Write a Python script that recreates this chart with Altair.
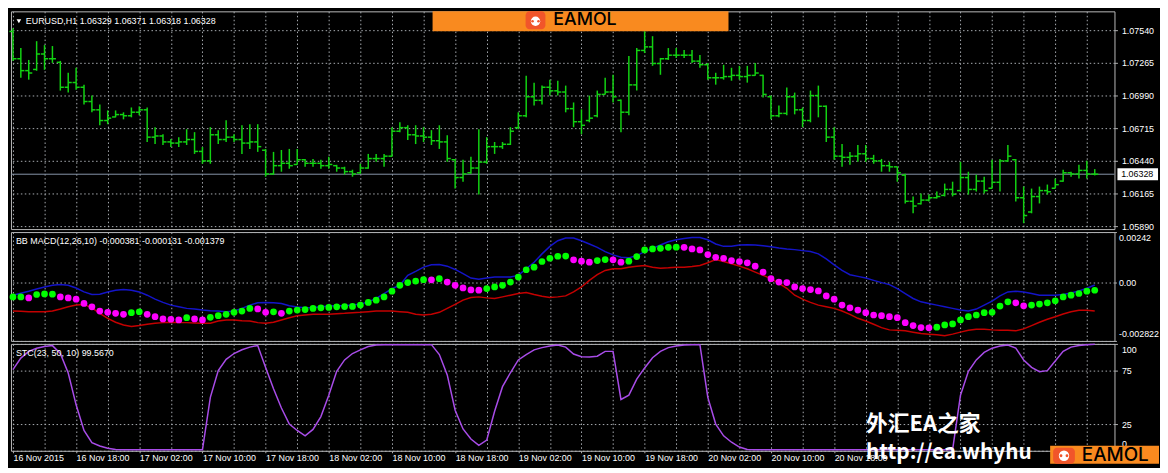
import json
import altair as alt
import pandas as pd

# ---------------- data ----------------
time_labels = ["16 Nov 2015", "16 Nov 18:00", "17 Nov 02:00", "17 Nov 10:00", "17 Nov 18:00",
               "18 Nov 02:00", "18 Nov 10:00", "18 Nov 18:00", "19 Nov 02:00", "19 Nov 10:00",
               "19 Nov 18:00", "20 Nov 02:00", "20 Nov 10:00", "20 Nov 18:00"]
price_ticks = [1.05890, 1.06165, 1.06440, 1.06715, 1.06990, 1.07265, 1.07540]
macd_ticks = [-0.002822, 0.0, 0.00242]
stc_ticks = [0, 25, 75, 100]

title_price = "EURUSD,H1  1.06329 1.06371 1.06318 1.06328"
title_macd = "BB MACD(12,26,10) -0.000381 -0.000131 -0.001379"
title_stc = "STC(23, 50, 10) 99.5670"
wm_cn = "外汇EA之家"
wm_url = "http://ea.whyhu"
logo_text = "EAMOL"

high = [1.07557, 1.07390, 1.07290, 1.07448, 1.07415, 1.07407, 1.07282, 1.07182, 1.07224, 1.07082,
        1.06990, 1.06915, 1.06865, 1.06865, 1.06849, 1.06890, 1.06899, 1.06890, 1.06724, 1.06665,
        1.06624, 1.06640, 1.06707, 1.06682, 1.06557, 1.06724, 1.06699, 1.06782, 1.06665, 1.06740,
        1.06749, 1.06749, 1.06541, 1.06516, 1.06532, 1.06541, 1.06541, 1.06457, 1.06457, 1.06449,
        1.06474, 1.06407, 1.06391, 1.06366, 1.06416, 1.06499, 1.06499, 1.06499, 1.06724, 1.06765,
        1.06740, 1.06740, 1.06724, 1.06699, 1.06740, 1.06657, 1.06457, 1.06449, 1.06474, 1.06707,
        1.06640, 1.06599, 1.06599, 1.06724, 1.06849, 1.07157, 1.07099, 1.07074, 1.07124, 1.07115,
        1.07074, 1.06932, 1.06874, 1.06990, 1.07032, 1.07140, 1.07165, 1.06957, 1.07323, 1.07390,
        1.07532, 1.07490, 1.07307, 1.07390, 1.07390, 1.07374, 1.07374, 1.07332, 1.07265, 1.07182,
        1.07249, 1.07224, 1.07240, 1.07240, 1.07265, 1.07165, 1.06990, 1.06907, 1.07057, 1.07015,
        1.06890, 1.07032, 1.07074, 1.06907, 1.06724, 1.06582, 1.06516, 1.06574, 1.06574, 1.06491,
        1.06457, 1.06432, 1.06391, 1.06332, 1.06141, 1.06166, 1.06157, 1.06182, 1.06249, 1.06265,
        1.06432, 1.06349, 1.06324, 1.06307, 1.06449, 1.06457, 1.06574, 1.06457, 1.06224, 1.06207,
        1.06224, 1.06241, 1.06291, 1.06366, 1.06349, 1.06407, 1.06441, 1.06371]
low = [1.07282, 1.07140, 1.07124, 1.07199, 1.07207, 1.07265, 1.07032, 1.07015, 1.07040, 1.06915,
       1.06849, 1.06740, 1.06749, 1.06807, 1.06790, 1.06807, 1.06824, 1.06599, 1.06582, 1.06574,
       1.06557, 1.06557, 1.06574, 1.06499, 1.06416, 1.06416, 1.06582, 1.06599, 1.06599, 1.06499,
       1.06541, 1.06516, 1.06307, 1.06324, 1.06349, 1.06374, 1.06407, 1.06391, 1.06391, 1.06374,
       1.06374, 1.06349, 1.06324, 1.06307, 1.06332, 1.06374, 1.06432, 1.06391, 1.06474, 1.06682,
       1.06615, 1.06582, 1.06599, 1.06574, 1.06541, 1.06432, 1.06207, 1.06265, 1.06332, 1.06157,
       1.06416, 1.06499, 1.06541, 1.06574, 1.06707, 1.06807, 1.06907, 1.06915, 1.06990, 1.06990,
       1.06849, 1.06724, 1.06665, 1.06765, 1.06807, 1.06999, 1.06932, 1.06682, 1.06824, 1.07032,
       1.07348, 1.07240, 1.07165, 1.07290, 1.07307, 1.07307, 1.07265, 1.07224, 1.07124, 1.07082,
       1.07124, 1.07115, 1.07124, 1.07099, 1.07157, 1.06974, 1.06790, 1.06807, 1.06824, 1.06832,
       1.06724, 1.06765, 1.06807, 1.06599, 1.06449, 1.06391, 1.06407, 1.06432, 1.06432, 1.06416,
       1.06349, 1.06349, 1.06265, 1.06082, 1.05999, 1.06074, 1.06099, 1.06124, 1.06141, 1.06141,
       1.06182, 1.06157, 1.06182, 1.06166, 1.06207, 1.06182, 1.06432, 1.06099, 1.05916, 1.05999,
       1.06082, 1.06157, 1.06207, 1.06265, 1.06307, 1.06291, 1.06291, 1.06318]
open_ = [1.07530, 1.07300, 1.07200, 1.07210, 1.07340, 1.07300, 1.07270, 1.07060, 1.07100, 1.07060,
         1.06940, 1.06870, 1.06780, 1.06810, 1.06830, 1.06820, 1.06850, 1.06870, 1.06640, 1.06650,
         1.06600, 1.06590, 1.06600, 1.06620, 1.06520, 1.06440, 1.06660, 1.06620, 1.06640, 1.06620,
         1.06590, 1.06600, 1.06530, 1.06330, 1.06400, 1.06420, 1.06410, 1.06450, 1.06420, 1.06420,
         1.06400, 1.06400, 1.06380, 1.06350, 1.06340, 1.06380, 1.06460, 1.06460, 1.06480, 1.06690,
         1.06720, 1.06660, 1.06650, 1.06640, 1.06610, 1.06600, 1.06450, 1.06300, 1.06340, 1.06380,
         1.06430, 1.06560, 1.06560, 1.06580, 1.06720, 1.06820, 1.06980, 1.06950, 1.07060, 1.07030,
         1.07020, 1.06880, 1.06770, 1.06780, 1.06820, 1.07000, 1.07020, 1.06950, 1.06850, 1.07080,
         1.07370, 1.07400, 1.07260, 1.07300, 1.07330, 1.07330, 1.07330, 1.07280, 1.07250, 1.07140,
         1.07140, 1.07150, 1.07160, 1.07150, 1.07160, 1.07160, 1.06980, 1.06820, 1.06840, 1.06980,
         1.06870, 1.06780, 1.06990, 1.06900, 1.06640, 1.06480, 1.06470, 1.06480, 1.06500, 1.06460,
         1.06440, 1.06400, 1.06390, 1.06320, 1.06100, 1.06080, 1.06110, 1.06130, 1.06150, 1.06200,
         1.06190, 1.06300, 1.06200, 1.06270, 1.06210, 1.06260, 1.06440, 1.06450, 1.06130, 1.06010,
         1.06140, 1.06190, 1.06210, 1.06270, 1.06340, 1.06330, 1.06360, 1.06329]
close = [1.07300, 1.07200, 1.07180, 1.07340, 1.07300, 1.07300, 1.07060, 1.07100, 1.07060, 1.06940,
         1.06870, 1.06780, 1.06800, 1.06830, 1.06820, 1.06850, 1.06870, 1.06640, 1.06650, 1.06600,
         1.06590, 1.06600, 1.06620, 1.06520, 1.06440, 1.06660, 1.06620, 1.06640, 1.06620, 1.06590,
         1.06600, 1.06560, 1.06330, 1.06400, 1.06420, 1.06400, 1.06450, 1.06420, 1.06420, 1.06400,
         1.06410, 1.06380, 1.06350, 1.06330, 1.06380, 1.06460, 1.06460, 1.06480, 1.06690, 1.06720,
         1.06660, 1.06650, 1.06640, 1.06610, 1.06600, 1.06460, 1.06300, 1.06330, 1.06380, 1.06430,
         1.06560, 1.06560, 1.06580, 1.06690, 1.06820, 1.06980, 1.06950, 1.07060, 1.07030, 1.07020,
         1.06880, 1.06770, 1.06740, 1.06800, 1.07000, 1.07020, 1.06980, 1.06850, 1.07080, 1.07370,
         1.07400, 1.07260, 1.07300, 1.07330, 1.07330, 1.07330, 1.07280, 1.07250, 1.07140, 1.07140,
         1.07150, 1.07160, 1.07150, 1.07160, 1.07180, 1.07000, 1.06820, 1.06840, 1.06980, 1.06870,
         1.06780, 1.06990, 1.06900, 1.06640, 1.06480, 1.06470, 1.06480, 1.06500, 1.06460, 1.06440,
         1.06400, 1.06390, 1.06340, 1.06100, 1.06060, 1.06110, 1.06130, 1.06140, 1.06200, 1.06160,
         1.06300, 1.06200, 1.06270, 1.06190, 1.06260, 1.06440, 1.06480, 1.06130, 1.05980, 1.06140,
         1.06190, 1.06180, 1.06240, 1.06340, 1.06330, 1.06360, 1.06330, 1.06328]

macd = [-0.000701, -0.000701, -0.000749, -0.000587, -0.000558, -0.000572, -0.000701, -0.000749, -0.000811, -0.001016,
        -0.001178, -0.001383, -0.001445, -0.001493, -0.001541, -0.001464, -0.001417, -0.001541, -0.001655, -0.001765,
        -0.001779, -0.001813, -0.001703, -0.001765, -0.001813, -0.001684, -0.001607, -0.001541, -0.001445, -0.001383,
        -0.001255, -0.001279, -0.001445, -0.001421, -0.001493, -0.001383, -0.001336, -0.001312, -0.001255, -0.001226,
        -0.001207, -0.001178, -0.001168, -0.001159, -0.001097, -0.000968, -0.000859, -0.000701, -0.000429, -0.000143,
        -0.000014, 0.000062, 0.000129, 0.000119, 0.000176, 0.000014, -0.000143, -0.000272, -0.000367, -0.000377,
        -0.000301, -0.000224, -0.000143, 0.000014, 0.000253, 0.000606, 0.000730, 0.001002, 0.001159, 0.001255,
        0.001264, 0.001083, 0.001016, 0.000968, 0.001049, 0.001097, 0.001083, 0.000968, 0.001016, 0.001240,
        0.001560, 0.001607, 0.001636, 0.001684, 0.001693, 0.001684, 0.001607, 0.001560, 0.001336, 0.001207,
        0.001159, 0.001049, 0.001002, 0.000940, 0.000778, 0.000491, 0.000176, 0.000014, -0.000014, -0.000224,
        -0.000301, -0.000348, -0.000415, -0.000653, -0.000811, -0.001097, -0.001226, -0.001336, -0.001464, -0.001574,
        -0.001607, -0.001655, -0.001703, -0.001941, -0.002084, -0.002180, -0.002189, -0.002161, -0.002051, -0.002003,
        -0.001813, -0.001655, -0.001574, -0.001464, -0.001445, -0.001145, -0.000940, -0.000987, -0.001130, -0.001097,
        -0.001049, -0.000987, -0.000892, -0.000701, -0.000620, -0.000539, -0.000429, -0.000381]
# g = rising (green dot), m = falling (magenta dot)
macd_dir = ("ggmgggmmmm" "mmmmmggmmm" "mmgmmggggg" "gmmgmggggg" "gggggggggg"
            "gggmgmmmmm" "gggggggggg" "gmmmggmmgg" "gggggmmmmm" "mmmmmmmmmm"
            "mmmmmmmmmm" "mmmmmmmggg" "gggggggmmg" "gggggggg")
upper = [-0.000620, -0.000525, -0.000429, -0.000320, -0.000224, -0.000143, -0.000110, -0.000143, -0.000272, -0.000463,
         -0.000587, -0.000572, -0.000463, -0.000382, -0.000348, -0.000382, -0.000463, -0.000620, -0.000811, -0.000968,
         -0.001097, -0.001178, -0.001255, -0.001288, -0.001336, -0.001369, -0.001383, -0.001417, -0.001383, -0.001255,
         -0.001097, -0.000987, -0.000968, -0.000987, -0.001016, -0.001130, -0.001193, -0.001226, -0.001207, -0.001178,
         -0.001145, -0.001130, -0.001130, -0.001097, -0.001049, -0.000940, -0.000778, -0.000539, -0.000301, -0.000143,
         0.000334, 0.000525, 0.000730, 0.000844, 0.000859, 0.000778, 0.000620, 0.000415, 0.000205, 0.000143,
         0.000205, 0.000253, 0.000253, 0.000253, 0.000334, 0.000653, 0.000968, 0.001369, 0.001732, 0.002003,
         0.002132, 0.002132, 0.002003, 0.001846, 0.001684, 0.001479, 0.001321, 0.001207, 0.001178, 0.001288,
         0.001479, 0.001636, 0.001798, 0.001956, 0.002051, 0.002113, 0.002161, 0.002161, 0.002051, 0.001846,
         0.001732, 0.001732, 0.001798, 0.001813, 0.001798, 0.001765, 0.001717, 0.001655, 0.001607, 0.001574,
         0.001526, 0.001479, 0.001369, 0.001130, 0.000844, 0.000572, 0.000367, 0.000286, 0.000205, 0.000095,
         -0.000014, -0.000110, -0.000301, -0.000539, -0.000778, -0.000940, -0.001016, -0.001097, -0.001178, -0.001255,
         -0.001336, -0.001383, -0.001288, -0.001097, -0.000906, -0.000653, -0.000463, -0.000429, -0.000463, -0.000539,
         -0.000620, -0.000620, -0.000620, -0.000587, -0.000510, -0.000415, -0.000286, -0.000131]
lower = [-0.001383, -0.001398, -0.001417, -0.001417, -0.001417, -0.001383, -0.001288, -0.001178, -0.001097, -0.001064,
         -0.001226, -0.001493, -0.001732, -0.001922, -0.002051, -0.002132, -0.002084, -0.002018, -0.001970, -0.001941,
         -0.001922, -0.001941, -0.001941, -0.001956, -0.001970, -0.001970, -0.001860, -0.001813, -0.001813, -0.001846,
         -0.001860, -0.001941, -0.001970, -0.001922, -0.001813, -0.001703, -0.001607, -0.001574, -0.001541, -0.001541,
         -0.001541, -0.001512, -0.001493, -0.001464, -0.001445, -0.001417, -0.001383, -0.001383, -0.001383, -0.001417,
         -0.001445, -0.001541, -0.001574, -0.001541, -0.001445, -0.001255, -0.001064, -0.000859, -0.000730, -0.000701,
         -0.000749, -0.000778, -0.000701, -0.000620, -0.000539, -0.000491, -0.000587, -0.000668, -0.000730, -0.000701,
         -0.000653, -0.000463, -0.000224, 0.000095, 0.000367, 0.000572, 0.000653, 0.000653, 0.000730, 0.000778,
         0.000811, 0.000730, 0.000682, 0.000701, 0.000730, 0.000730, 0.000763, 0.000811, 0.000940, 0.001097,
         0.001002, 0.000892, 0.000778, 0.000653, 0.000491, 0.000334, 0.000176, -0.000048, -0.000286, -0.000620,
         -0.000811, -0.000968, -0.001097, -0.001178, -0.001255, -0.001383, -0.001541, -0.001732, -0.001860, -0.002018,
         -0.002180, -0.002290, -0.002304, -0.002337, -0.002399, -0.002466, -0.002495, -0.002528, -0.002576, -0.002495,
         -0.002399, -0.002304, -0.002256, -0.002256, -0.002290, -0.002304, -0.002304, -0.002337, -0.002242, -0.002084,
         -0.001922, -0.001779, -0.001655, -0.001526, -0.001417, -0.001350, -0.001350, -0.001379]
stc = [75.9, 86.7, 92.9, 96.0, 97.5, 98.4, 91.0, 72.8, 43.0, 19.0,
       7.6, 4.5, 2.4, 1.2, 1.0, 1.0, 1.0, 1.0, 1.0, 1.0,
       1.0, 1.0, 1.0, 1.0, 1.0, 50.0, 75.0, 85.5, 91.0, 94.5,
       97.0, 98.5, 78.0, 58.0, 40.0, 25.0, 19.0, 14.0, 20.0, 32.0,
       52.0, 74.4, 85.0, 91.0, 94.4, 97.5, 99.0, 99.3, 99.3, 99.3,
       99.3, 99.3, 99.3, 99.3, 90.0, 71.0, 38.0, 20.4, 11.0, 5.0,
       10.0, 37.0, 60.0, 73.0, 85.0, 90.0, 94.4, 96.5, 98.0, 99.0,
       97.0, 90.5, 88.0, 87.7, 88.5, 93.0, 93.0, 48.0, 52.0, 67.0,
       77.5, 87.0, 93.0, 96.5, 98.0, 99.0, 99.3, 99.3, 50.0, 25.0,
       14.0, 8.0, 3.5, 1.2, 1.0, 1.0, 1.0, 1.0, 1.0, 1.0,
       1.0, 1.0, 1.0, 1.0, 1.0, 1.0, 1.0, 1.0, 1.0, 1.0,
       1.0, 1.0, 1.0, 1.0, 1.0, 1.0, 1.0, 1.0, 1.0, 1.0,
       52.0, 74.4, 85.0, 92.0, 96.0, 98.0, 99.0, 96.0, 85.0, 78.0,
       74.0, 75.0, 84.0, 93.0, 97.0, 98.5, 99.2, 99.567]

n = len(close)
for arr in (open_, high, low, macd, upper, lower, stc, macd_dir):
    assert len(arr) == n, len(arr)

bars = pd.DataFrame({
    "i": list(range(n)), "open": open_, "high": high, "low": low, "close": close,
    "macd": macd, "dir": list(macd_dir), "upper": upper, "lower": lower, "stc": stc,
})

# ---------------- styling ----------------
W = 1115
H1, H2, H3 = 220, 110, 108
FONT = "Liberation Sans"
GRID = "#a9adb2"
DASH = [1.5, 2.5]
TICKC = "#b0b0b0"
GREEN = "#12d212"
ORANGE = "#f98a1f"
ICON = "#f1552a"
DARK = "#000000"

xs = alt.Scale(domain=[-0.25, 139.5], nice=False, zero=False)
grid_vals = list(range(0, 140, 4))
x_grid_axis = alt.Axis(values=grid_vals, grid=True, gridColor=GRID, gridDash=DASH, gridWidth=1,
                       labels=False, ticks=False, domain=False, title=None)
n_lab = len(time_labels)
label_test = f"datum.value % 8 == 0 && datum.value / 8 < {n_lab}"
label_expr = f"{label_test} ? " + json.dumps(time_labels) + "[datum.value / 8] : ''"
x_bottom_axis = alt.Axis(values=grid_vals, grid=True, gridColor=GRID, gridDash=DASH, gridWidth=1,
                         labels=True, labelExpr=label_expr, labelAlign="left", labelColor="white",
                         labelFont=FONT, labelFontSize=9, labelPadding=1, labelOverlap=False,
                         labelFlush=False, ticks=True, tickSize=2, tickColor=TICKC,
                         tickOpacity={"condition": {"test": label_test, "value": 1}, "value": 0},
                         domain=False, title=None)


def right_axis(values, **kw):
    base = dict(orient="right", values=values, grid=True, gridColor=GRID, gridDash=DASH, gridWidth=1,
                labelColor="white", labelFont=FONT, labelFontSize=9, tickSize=3, tickColor=TICKC,
                domain=False, labelPadding=4, title=None, labelOverlap=False)
    base.update(kw)
    return alt.Axis(**base)


one = pd.DataFrame({"k": [0]})
logo_df = pd.DataFrame({"t": [logo_text]})


def logo_text_mark(x, y, size):
    return alt.Chart(logo_df).mark_text(font="Inter", fontSize=size, fontWeight=500,
                                        align="left", baseline="middle").encode(
        x=alt.value(x), y=alt.value(y), text="t:N", fill=alt.value(DARK), color=alt.value(DARK))


# ---------------- price panel ----------------
y_price = alt.Scale(domain=[1.05866, 1.07699], nice=False, zero=False)
price_axis = right_axis(price_ticks, format=".5f", labelFlush=False)
X = alt.X("i:Q", scale=xs, axis=x_grid_axis)
base = alt.Chart(bars)

last = pd.DataFrame({"p": [close[-1]], "t": [f"{close[-1]:.5f}"]})
p_line = alt.Chart(last).mark_rule(color="#8896aa", strokeWidth=1).encode(
    y=alt.Y("p:Q", scale=y_price, axis=price_axis))
hl = base.mark_rule(color=GREEN, strokeWidth=1.5).encode(
    x=X, y=alt.Y("low:Q", scale=y_price, axis=price_axis), y2="high:Q")
op = base.transform_calculate(xo="datum.i - 0.45").mark_rule(color=GREEN, strokeWidth=1.5).encode(
    x=alt.X("xo:Q", scale=xs, axis=x_grid_axis), x2="i:Q",
    y=alt.Y("open:Q", scale=y_price, axis=price_axis))
cl = base.transform_calculate(xc="datum.i + 0.45").mark_rule(color=GREEN, strokeWidth=1.5).encode(
    x=X, x2="xc:Q", y=alt.Y("close:Q", scale=y_price, axis=price_axis))
p_box = alt.Chart(last).mark_rect(color="white", yOffset=-6, y2Offset=6).encode(
    x=alt.value(W + 3), x2=alt.value(W + 44),
    y=alt.Y("p:Q", scale=y_price, axis=price_axis), y2="p:Q")
p_txt = alt.Chart(last).mark_text(color="black", font=FONT, fontSize=9, align="center",
                                  baseline="middle").encode(
    x=alt.value(W + 23), y=alt.Y("p:Q", scale=y_price, axis=price_axis), text="t:N",
    color=alt.value("black"))
tri = alt.Chart(one).mark_point(shape="triangle-down", filled=True, color="white", size=22,
                                opacity=1).encode(x=alt.value(8), y=alt.value(10))
t1 = alt.Chart(one).mark_text(color="white", font=FONT, fontSize=9, align="left",
                              baseline="middle").encode(
    x=alt.value(15), y=alt.value(10), text=alt.value(title_price))
hdr = alt.Chart(one).mark_rect(color=ORANGE).encode(
    x=alt.value(426), x2=alt.value(725), y=alt.value(0), y2=alt.value(20))
hdr_icon = alt.Chart(one).mark_rect(color=ICON, cornerRadius=4).encode(
    x=alt.value(520), x2=alt.value(540), y=alt.value(0), y2=alt.value(18))
hdr_face = alt.Chart(one).mark_point(shape="circle", filled=True, color="white", size=90,
                                     opacity=1).encode(x=alt.value(530), y=alt.value(10))
hdr_eyes = alt.Chart(pd.DataFrame({"dx": [-3, 3]})).mark_point(
    shape="circle", filled=True, color=ICON, size=7, opacity=1).encode(
    x=alt.value(530), y=alt.value(10), xOffset=alt.XOffset("dx:Q", scale=None))
hdr_txt = logo_text_mark(548, 9, 18)

top = alt.layer(p_line, hl, op, cl, p_box, p_txt, tri, t1, hdr, hdr_icon, hdr_face, hdr_eyes, hdr_txt
                ).properties(width=W, height=H1)

# ---------------- BB MACD panel ----------------
y_macd = alt.Scale(domain=[macd_ticks[0], macd_ticks[-1]], nice=False, zero=False)
macd_axis = right_axis(
    macd_ticks, labelFlush=True, labelFlushOffset=-2, tickSize=2, labelPadding=2,
    labelExpr="datum.value == 0 ? '0.00' : (datum.value > 0 ? format(datum.value, '.5f') "
              ": '-' + format(-datum.value, '.6f'))")
up_l = base.mark_line(color="#1414c8", strokeWidth=1.5).encode(
    x=X, y=alt.Y("upper:Q", scale=y_macd, axis=macd_axis))
lo_l = base.mark_line(color="#c40000", strokeWidth=1.5).encode(
    x=X, y=alt.Y("lower:Q", scale=y_macd, axis=macd_axis))
dots = base.mark_circle(size=46, opacity=1).encode(
    x=X, y=alt.Y("macd:Q", scale=y_macd, axis=macd_axis),
    color=alt.Color("dir:N", scale=alt.Scale(domain=["g", "m"], range=["#00ff00", "#ff00ff"]),
                    legend=None))
t2 = alt.Chart(one).mark_text(color="white", font=FONT, fontSize=9, align="left",
                              baseline="middle").encode(
    x=alt.value(5), y=alt.value(9), text=alt.value(title_macd))
mid = alt.layer(up_l, lo_l, dots, t2).properties(width=W, height=H2)

# ---------------- STC panel ----------------
y_stc = alt.Scale(domain=[0, 100], nice=False, zero=False)
stc_axis = right_axis(stc_ticks, labelFlush=True, labelFlushOffset=-2, format="d")
XB = alt.X("i:Q", scale=xs, axis=x_bottom_axis)
stc_l = base.mark_line(color="#a84ce8", strokeWidth=1.5).encode(
    x=XB, y=alt.Y("stc:Q", scale=y_stc, axis=stc_axis))
t3 = alt.Chart(one).mark_text(color="white", font=FONT, fontSize=9, align="left",
                              baseline="middle").encode(
    x=alt.value(5), y=alt.value(9), text=alt.value(title_stc))
wm1 = alt.Chart(one).mark_text(color="white", font="Noto Sans CJK SC", fontWeight="bold",
                               fontSize=22, align="left", baseline="middle").encode(
    x=alt.value(864), y=alt.value(81), text=alt.value(wm_cn))
wm2 = alt.Chart(one).mark_text(color="white", font="Noto Sans CJK SC", fontWeight="bold",
                               fontSize=21, align="left", baseline="middle").encode(
    x=alt.value(864), y=alt.value(110), text=alt.value(wm_url))
box = alt.Chart(one).mark_rect(color=ORANGE).encode(
    x=alt.value(1050), x2=alt.value(1160), y=alt.value(103), y2=alt.value(121))
b_icon = alt.Chart(one).mark_rect(color=ICON, cornerRadius=4).encode(
    x=alt.value(1053), x2=alt.value(1075), y=alt.value(105), y2=alt.value(121))
b_face = alt.Chart(one).mark_point(shape="circle", filled=True, color="white", size=110,
                                   opacity=1).encode(x=alt.value(1064), y=alt.value(113))
b_eyes = alt.Chart(pd.DataFrame({"dx": [-3, 3]})).mark_point(
    shape="circle", filled=True, color=ICON, size=8, opacity=1).encode(
    x=alt.value(1064), y=alt.value(113), xOffset=alt.XOffset("dx:Q", scale=None))
b_txt = logo_text_mark(1082, 112, 19)
bot = alt.layer(stc_l, t3, wm1, wm2, box, b_icon, b_face, b_eyes, b_txt
                ).properties(width=W, height=H3)

chart = alt.vconcat(top, mid, bot, spacing=3, bounds="flush").properties(
    padding=0, background="#000000"
).configure_view(stroke="#b9b9b9", strokeWidth=1)

chart.save("out.html", embed_options={"renderer": "svg", "actions": False})
